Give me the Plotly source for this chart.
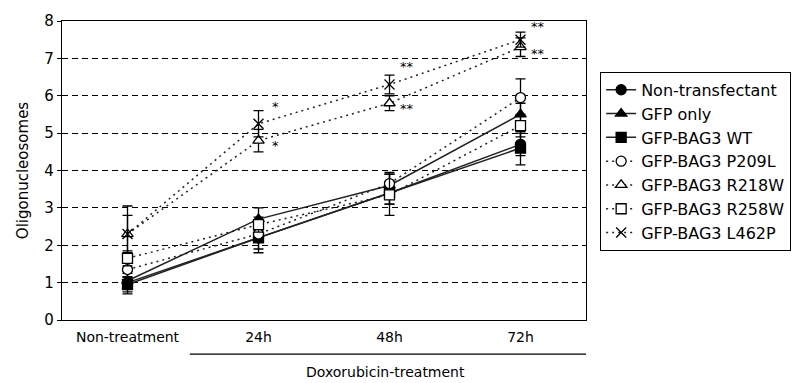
import plotly.graph_objects as go

categories = ["Non-treatment", "24h", "48h", "72h"]

series_names = ["Non-transfectant", "GFP only", "GFP-BAG3 WT", "GFP-BAG3 P209L",
                "GFP-BAG3 R218W", "GFP-BAG3 R258W", "GFP-BAG3 L462P"]

non_transfectant = [1.0, 2.2, 3.4, 4.7]
gfp_only = [1.05, 2.7, 3.6, 5.5]
bag3_wt = [0.95, 2.2, 3.4, 4.6]
bag3_p209l = [1.35, 2.3, 3.65, 5.95]
bag3_r218w = [2.3, 4.8, 5.8, 7.3]
bag3_r258w = [1.65, 2.55, 3.35, 5.2]
bag3_l462p = [2.3, 5.25, 6.3, 7.5]

err_non_transfectant = [0.3, 0.3, 0.3, 0.3]
err_gfp_only = [0.2, 0.3, 0.3, 0.3]
err_bag3_wt = [0.2, 0.4, 0.3, 0.45]
err_bag3_p209l = [0.2, 0.2, 0.3, 0.5]
err_bag3_r218w = [0.75, 0.3, 0.2, 0.25]
err_bag3_r258w = [0.2, 0.2, 0.55, 0.3]
err_bag3_l462p = [0.5, 0.35, 0.25, 0.2]

star_x = ["24h", "24h", "48h", "48h", "72h", "72h"]
star_y = [5.7, 4.68, 6.77, 5.67, 7.85, 7.14]
star_text = ["*", "*", "**", "**", "**", "**"]

values = [non_transfectant, gfp_only, bag3_wt, bag3_p209l, bag3_r218w, bag3_r258w, bag3_l462p]
errors = [err_non_transfectant, err_gfp_only, err_bag3_wt, err_bag3_p209l,
          err_bag3_r218w, err_bag3_r258w, err_bag3_l462p]
symbols = ["circle", "triangle-up", "square", "circle", "triangle-up", "square", "x-thin-open"]
fills = ["black", "black", "black", "white", "white", "white", "black"]
dashes = ["solid", "solid", "solid", "2px,4px", "2px,4px", "2px,4px", "2px,4px"]

FONT = "DejaVu Sans"

fig = go.Figure()
for i, name in enumerate(series_names):
    fig.add_trace(go.Scatter(
        x=categories, y=values[i], name=name, mode="lines+markers",
        legendgroup=name,
        line=dict(color="#222222", width=1.5, dash=dashes[i]),
        marker=dict(symbol=symbols[i], size=10, color=fills[i],
                    line=dict(color="black", width=1.3)),
        error_y=dict(type="data", array=errors[i], color="black", thickness=1.3, width=5),
    ))

for sx, sy, st in zip(star_x, star_y, star_text):
    fig.add_annotation(x=sx, y=sy, text=st, showarrow=False, xshift=17,
                       font=dict(size=13, color="black", family=FONT))

fig.add_shape(type="line", xref="paper", yref="paper", x0=0.244, x1=1.0,
              y0=-0.114, y1=-0.114, line=dict(color="black", width=1.2))
fig.add_annotation(xref="paper", yref="paper", x=0.618, y=-0.174, text="Doxorubicin-treatment",
                   showarrow=False, yanchor="middle",
                   font=dict(size=14, color="black", family=FONT))

fig.update_layout(
    width=804, height=383,
    margin=dict(l=62, r=218, t=21, b=63),
    paper_bgcolor="white", plot_bgcolor="white",
    font=dict(family=FONT, size=14, color="black"),
    showlegend=True,
    legend=dict(x=1.027, y=0.83, xanchor="left", yanchor="top",
                bordercolor="black", borderwidth=1, bgcolor="white",
                font=dict(size=16, family=FONT),
                tracegroupgap=0),
    xaxis=dict(type="category", categoryorder="array", categoryarray=categories,
               range=[-0.5, 3.5], showline=True, linecolor="black", linewidth=1.2,
               mirror=True, showgrid=False, ticks="", tickfont=dict(size=14),
               ticklabelstandoff=4),
    yaxis=dict(range=[0, 8], dtick=1, showline=True, linecolor="black", linewidth=1.2,
               mirror=True, ticks="outside", ticklen=4, tickcolor="black",
               showgrid=True, gridcolor="black", gridwidth=1, griddash="6px,4px",
               zeroline=False, tickfont=dict(size=15),
               title=dict(text="Oligonucleosomes", font=dict(size=15), standoff=12)),
)

fig.write_html("out.html")
